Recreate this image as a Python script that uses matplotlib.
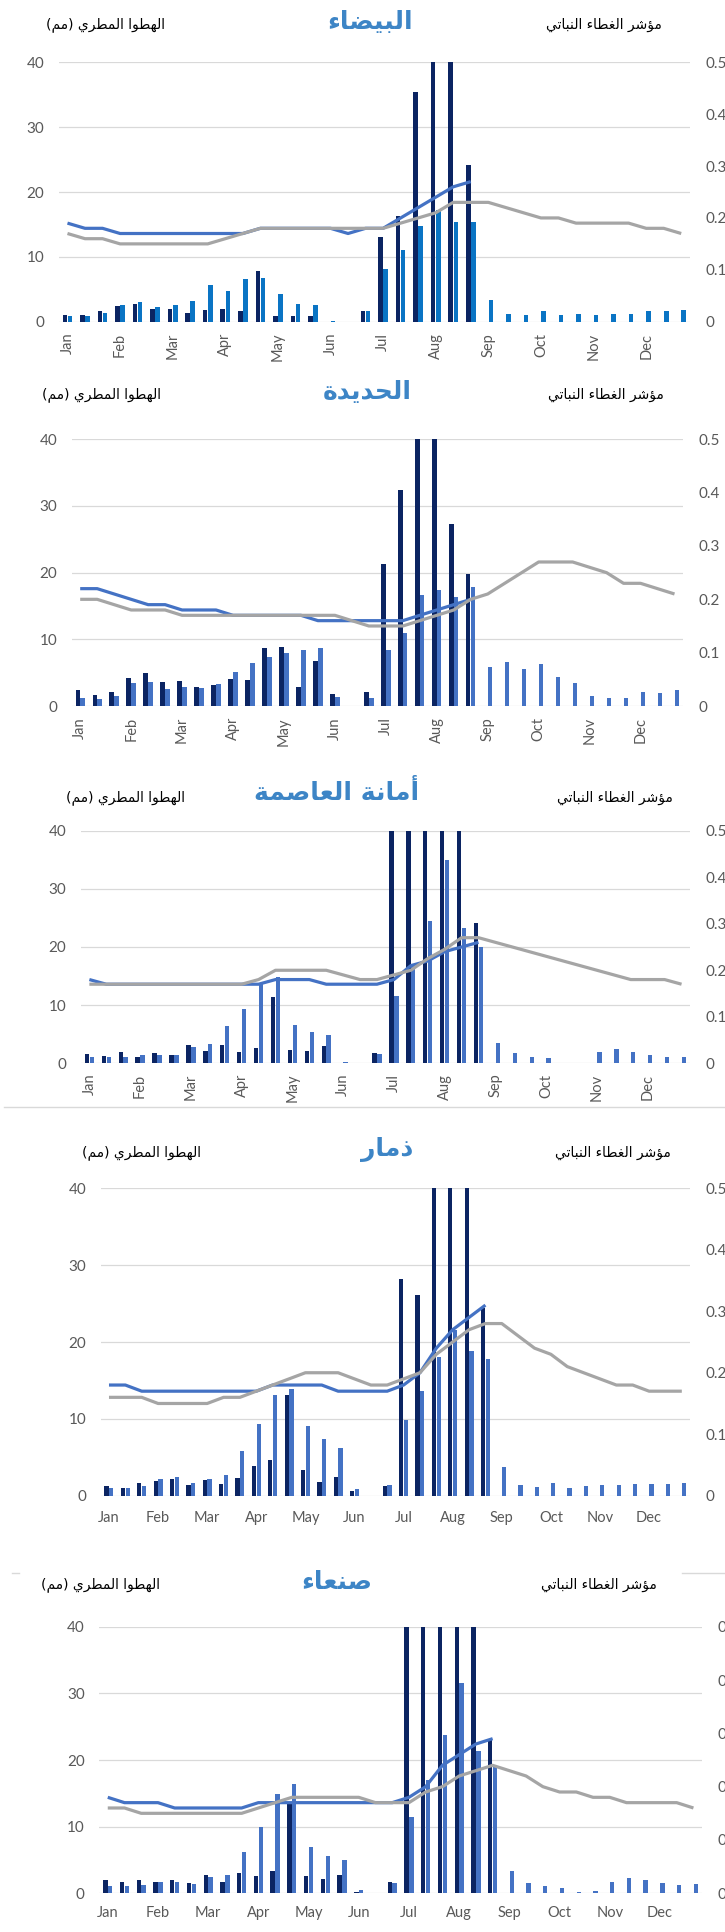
"""Dekadal rainfall bars and NDVI lines for five Yemeni governorates."""

from __future__ import annotations

import matplotlib

matplotlib.use("Agg")
import matplotlib.pyplot as plt
import numpy as np
from matplotlib.axes import Axes
from matplotlib.figure import Figure
from matplotlib.lines import Line2D

plt.rcParams.update({
    "font.family": ["Lato", "DejaVu Sans"],
    "axes.linewidth": 0,
})

FIG_W_PX = 725
FIG_H_PX = 1932
DPI = 100

DARK_BAR = "#0B2462"
BLUE = "#4472C4"
BLUE_BRIGHT = "#0A74C4"
GRAY = "#A5A5A5"
GRID = "#D9D9D9"
TICK_TEXT = "#595959"
TITLE_BLUE = "#3D85C6"

MONTHS = ["Jan", "Feb", "Mar", "Apr", "May", "Jun",
          "Jul", "Aug", "Sep", "Oct", "Nov", "Dec"]

RAIN_LABEL = "الهطوا المطري (مم)"
NDVI_LABEL = "مؤشر الغطاء النباتي"

# --- data (36 dekads; current season runs to the last dekad of August) ---
BAYDA_TITLE = "البيضاء"
BAYDA_RAIN_CURRENT = [1.0, 1.0, 1.7, 2.4, 2.7, 1.9, 2.0, 1.3, 1.8, 2.0, 1.6, 7.8,
                      0.9, 0.9, 0.9, 0.0, 0.0, 1.6, 13.0, 16.3, 35.4, 45.0, 45.0, 24.2]
BAYDA_RAIN_MEAN = [0.9, 0.9, 1.3, 2.6, 3.0, 2.2, 2.5, 3.2, 5.6, 4.8, 6.6, 6.8,
                   4.3, 2.8, 2.6, 0.1, 0.0, 1.6, 8.1, 11.1, 14.7, 17.3, 15.4, 15.4,
                   3.3, 1.2, 1.1, 1.6, 1.1, 1.2, 1.1, 1.2, 1.2, 1.6, 1.6, 1.8]
BAYDA_NDVI_CURRENT = [0.19, 0.18, 0.18, 0.17, 0.17, 0.17, 0.17, 0.17, 0.17, 0.17, 0.17, 0.18,
                      0.18, 0.18, 0.18, 0.18, 0.17, 0.18, 0.18, 0.20, 0.22, 0.24, 0.26, 0.27]
BAYDA_NDVI_MEAN = [0.17, 0.16, 0.16, 0.15, 0.15, 0.15, 0.15, 0.15, 0.15, 0.16, 0.17, 0.18,
                   0.18, 0.18, 0.18, 0.18, 0.18, 0.18, 0.18, 0.19, 0.20, 0.21, 0.23, 0.23,
                   0.23, 0.22, 0.21, 0.20, 0.20, 0.19, 0.19, 0.19, 0.19, 0.18, 0.18, 0.17]

HODEIDAH_TITLE = "الحديدة"
HODEIDAH_RAIN_CURRENT = [2.4, 1.65, 2.15, 4.15, 5.0, 3.65, 3.8, 2.8, 3.1, 4.05, 3.9, 8.65,
                         8.8, 2.8, 6.75, 1.8, 0.0, 2.15, 21.3, 32.4, 45.0, 45.0, 27.25, 19.8]
HODEIDAH_RAIN_MEAN = [1.25, 1.05, 1.55, 3.4, 3.55, 2.55, 2.8, 2.65, 3.25, 5.05, 6.4, 7.3,
                      8.0, 8.4, 8.7, 1.4, 0.0, 1.25, 8.4, 10.9, 16.65, 17.4, 16.4, 17.9,
                      5.9, 6.6, 5.55, 6.3, 4.4, 3.5, 1.55, 1.2, 1.15, 2.1, 2.0, 2.45]
HODEIDAH_NDVI_CURRENT = [0.22, 0.22, 0.21, 0.20, 0.19, 0.19, 0.18, 0.18, 0.18, 0.17, 0.17, 0.17,
                         0.17, 0.17, 0.16, 0.16, 0.16, 0.16, 0.16, 0.16, 0.17, 0.18, 0.19, 0.20]
HODEIDAH_NDVI_MEAN = [0.20, 0.20, 0.19, 0.18, 0.18, 0.18, 0.17, 0.17, 0.17, 0.17, 0.17, 0.17,
                      0.17, 0.17, 0.17, 0.17, 0.16, 0.15, 0.15, 0.15, 0.16, 0.17, 0.18, 0.20,
                      0.21, 0.23, 0.25, 0.27, 0.27, 0.27, 0.26, 0.25, 0.23, 0.23, 0.22, 0.21]

SANAA_CITY_TITLE = "أمانة العاصمة"
SANAA_CITY_RAIN_CURRENT = [1.6, 1.3, 1.95, 1.15, 1.7, 1.45, 3.1, 2.2, 3.1, 2.0, 2.7, 11.35,
                           2.3, 2.05, 3.0, 0.0, 0.0, 1.8, 45.0, 45.0, 45.0, 45.0, 45.0, 24.2]
SANAA_CITY_RAIN_MEAN = [1.05, 1.05, 1.15, 1.35, 1.35, 1.35, 2.85, 3.3, 6.4, 9.35, 13.75, 14.9,
                        6.65, 5.45, 4.8, 0.3, 0.0, 1.55, 11.6, 17.0, 24.5, 34.9, 23.3, 20.05,
                        3.45, 1.7, 1.15, 0.85, 0.0, 0.1, 1.9, 2.45, 2.0, 1.4, 1.1, 1.15]
SANAA_CITY_NDVI_CURRENT = [0.18, 0.17, 0.17, 0.17, 0.17, 0.17, 0.17, 0.17, 0.17, 0.17, 0.17, 0.18,
                           0.18, 0.18, 0.17, 0.17, 0.17, 0.17, 0.18, 0.21, 0.22, 0.24, 0.25, 0.26]
SANAA_CITY_NDVI_MEAN = [0.17, 0.17, 0.17, 0.17, 0.17, 0.17, 0.17, 0.17, 0.17, 0.17, 0.18, 0.20,
                        0.20, 0.20, 0.20, 0.19, 0.18, 0.18, 0.19, 0.20, 0.225, 0.245, 0.27, 0.27,
                        0.26, 0.25, 0.24, 0.23, 0.22, 0.21, 0.20, 0.19, 0.18, 0.18, 0.18, 0.17]

DHAMAR_TITLE = "ذمار"
DHAMAR_RAIN_CURRENT = [1.2, 1.05, 1.7, 1.85, 2.2, 1.35, 2.0, 1.5, 2.25, 3.85, 4.65, 13.1,
                       3.4, 1.8, 2.4, 0.6, 0.0, 1.3, 28.2, 26.1, 45.0, 45.0, 45.0, 24.4]
DHAMAR_RAIN_MEAN = [1.05, 1.05, 1.25, 2.2, 2.4, 1.65, 2.15, 2.65, 5.85, 9.3, 13.05, 13.9,
                    9.1, 7.4, 6.25, 0.85, 0.0, 1.45, 9.85, 13.65, 18.0, 21.6, 18.85, 17.75,
                    3.75, 1.4, 1.1, 1.6, 1.05, 1.25, 1.35, 1.4, 1.5, 1.5, 1.55, 1.7]
DHAMAR_NDVI_CURRENT = [0.18, 0.18, 0.17, 0.17, 0.17, 0.17, 0.17, 0.17, 0.17, 0.17, 0.18, 0.18,
                       0.18, 0.18, 0.17, 0.17, 0.17, 0.17, 0.18, 0.20, 0.24, 0.27, 0.29, 0.31]
DHAMAR_NDVI_MEAN = [0.16, 0.16, 0.16, 0.15, 0.15, 0.15, 0.15, 0.16, 0.16, 0.17, 0.18, 0.19,
                    0.20, 0.20, 0.20, 0.19, 0.18, 0.18, 0.19, 0.20, 0.23, 0.25, 0.27, 0.28,
                    0.28, 0.26, 0.24, 0.23, 0.21, 0.20, 0.19, 0.18, 0.18, 0.17, 0.17, 0.17]

SANAA_TITLE = "صنعاء"
SANAA_RAIN_CURRENT = [2.0, 1.65, 2.0, 1.65, 2.05, 1.6, 2.75, 1.7, 3.0, 2.6, 3.35, 13.5,
                      2.6, 2.2, 2.8, 0.15, 0.0, 1.65, 45.0, 45.0, 45.0, 45.0, 45.0, 23.0]
SANAA_RAIN_MEAN = [1.1, 1.1, 1.2, 1.75, 1.7, 1.45, 2.45, 2.8, 6.2, 10.0, 14.9, 16.35,
                   6.9, 5.65, 4.95, 0.45, 0.0, 1.5, 11.4, 17.0, 23.75, 31.6, 21.35, 19.0,
                   3.35, 1.5, 1.05, 0.85, 0.15, 0.4, 1.75, 2.25, 1.95, 1.5, 1.25, 1.35]
SANAA_NDVI_CURRENT = [0.18, 0.17, 0.17, 0.17, 0.16, 0.16, 0.16, 0.16, 0.16, 0.17, 0.17, 0.17,
                      0.17, 0.17, 0.17, 0.17, 0.17, 0.17, 0.18, 0.20, 0.24, 0.26, 0.28, 0.29]
SANAA_NDVI_MEAN = [0.16, 0.16, 0.15, 0.15, 0.15, 0.15, 0.15, 0.15, 0.15, 0.16, 0.17, 0.18,
                   0.18, 0.18, 0.18, 0.18, 0.17, 0.17, 0.17, 0.19, 0.20, 0.22, 0.23, 0.24,
                   0.23, 0.22, 0.20, 0.19, 0.19, 0.18, 0.18, 0.17, 0.17, 0.17, 0.17, 0.16]

# --- layout, in pixels of the 725 x 1932 output ---
PANEL_LAYOUT = [
    dict(x0=58.7, x1=690.0, y_top=62.3, y_zero=321.7, title=(370, 22), left=(106, 25),
         right=(604, 25), rotate=True, xpad=8, mean_color=BLUE_BRIGHT),
    dict(x0=71.7, x1=683.0, y_top=439.3, y_zero=706.0, title=(367, 392), left=(102, 395),
         right=(606, 395), rotate=True, xpad=8, mean_color=BLUE),
    dict(x0=80.9, x1=690.0, y_top=830.7, y_zero=1063.3, title=(337, 793), left=(126, 798),
         right=(615, 798), rotate=True, xpad=7.5, mean_color=BLUE),
    dict(x0=100.8, x1=690.0, y_top=1188.3, y_zero=1495.7, title=(387, 1150), left=(141, 1153),
         right=(613, 1153), rotate=False, xpad=11, mean_color=BLUE),
    dict(x0=99.4, x1=701.8, y_top=1626.7, y_zero=1893.3, title=(337, 1582), left=(101, 1585),
         right=(599, 1585), rotate=False, xpad=9.5, mean_color=BLUE),
]

# Arabic letters -> isolated presentation form; dual-joining letters have
# final/initial/medial forms at +1/+2/+3, right-joining letters only at +1.
_DUAL_JOINING = {
    "ب": 0xFE8F, "ت": 0xFE95, "ح": 0xFEA1, "ش": 0xFEB5, "ص": 0xFEB9, "ض": 0xFEBD,
    "ط": 0xFEC1, "ع": 0xFEC9, "غ": 0xFECD, "ل": 0xFEDD, "م": 0xFEE1, "ن": 0xFEE5,
    "ه": 0xFEE9, "ي": 0xFEF1,
}
_RIGHT_JOINING = {
    "ا": 0xFE8D, "أ": 0xFE83, "ؤ": 0xFE85, "ة": 0xFE93, "د": 0xFEA9, "ذ": 0xFEAB,
    "ر": 0xFEAD, "و": 0xFEED,
}
_NON_JOINING = {"ء": 0xFE80}
_MIRROR = {"(": ")", ")": "("}


def shape_arabic(text: str) -> str:
    """Return text in contextual glyph forms and visual (right-to-left) order."""
    joining = set(_DUAL_JOINING) | set(_RIGHT_JOINING)
    out: list[str] = []
    for i, ch in enumerate(text):
        prev = text[i - 1] if i > 0 else ""
        nxt = text[i + 1] if i + 1 < len(text) else ""
        joins_prev = prev in _DUAL_JOINING and ch in joining
        if ch in _DUAL_JOINING:
            joins_next = nxt in joining
            offset = {(False, False): 0, (True, False): 1,
                      (False, True): 2, (True, True): 3}[(joins_prev, joins_next)]
            out.append(chr(_DUAL_JOINING[ch] + offset))
        elif ch in _RIGHT_JOINING:
            out.append(chr(_RIGHT_JOINING[ch] + (1 if joins_prev else 0)))
        elif ch in _NON_JOINING:
            out.append(chr(_NON_JOINING[ch]))
        else:
            out.append(_MIRROR.get(ch, ch))
    return "".join(reversed(out))


def _fx(px: float) -> float:
    return px / FIG_W_PX


def _fy(px: float) -> float:
    return 1 - px / FIG_H_PX


def _plot_panel(fig: Figure, layout: dict, title: str, rain_current, rain_mean,
                ndvi_current, ndvi_mean) -> None:
    """Draw one governorate: rainfall bars (left axis) and NDVI lines (right axis)."""
    rect = [_fx(layout["x0"]), _fy(layout["y_zero"]),
            _fx(layout["x1"] - layout["x0"]),
            (layout["y_zero"] - layout["y_top"]) / FIG_H_PX]
    ax: Axes = fig.add_axes(rect)
    x_all = np.arange(len(rain_mean))
    x_cur = np.arange(len(rain_current))

    ax.bar(x_cur - 0.145, rain_current, width=0.26, color=DARK_BAR, zorder=2)
    ax.bar(x_all + 0.145, rain_mean, width=0.26, color=layout["mean_color"], zorder=2)
    ax.set_xlim(-0.5, len(rain_mean) - 0.5)
    ax.set_ylim(0, 40)
    ax.set_yticks([0, 10, 20, 30, 40])
    ax.set_axisbelow(True)
    ax.yaxis.grid(True, color=GRID, linewidth=0.9)
    ax.set_xticks(np.arange(0, 36, 3))
    ax.set_xticklabels(MONTHS, rotation=90 if layout["rotate"] else 0)
    ax.tick_params(axis="x", length=0, pad=layout["xpad"], labelsize=10.5,
                   labelcolor=TICK_TEXT)
    ax.tick_params(axis="y", length=0, pad=10.5, labelsize=11, labelcolor=TICK_TEXT)
    for spine in ax.spines.values():
        spine.set_visible(False)

    ax_ndvi = ax.twinx()
    ax_ndvi.plot(x_cur, ndvi_current, color=BLUE, linewidth=2.3, solid_capstyle="butt")
    ax_ndvi.plot(x_all, ndvi_mean, color=GRAY, linewidth=2.3, solid_capstyle="butt")
    ax_ndvi.set_ylim(0, 0.5)
    ax_ndvi.set_yticks([0, 0.1, 0.2, 0.3, 0.4, 0.5])
    ax_ndvi.set_yticklabels(["0", "0.1", "0.2", "0.3", "0.4", "0.5"])
    ax_ndvi.tick_params(axis="y", length=0, pad=11, labelsize=11, labelcolor=TICK_TEXT)
    for spine in ax_ndvi.spines.values():
        spine.set_visible(False)

    tx, ty = layout["title"]
    fig.text(_fx(tx), _fy(ty), shape_arabic(title), ha="center", va="center",
             fontsize=18, fontweight="bold", color=TITLE_BLUE, family="DejaVu Sans")
    lx, ly = layout["left"]
    fig.text(_fx(lx), _fy(ly), shape_arabic(RAIN_LABEL), ha="center", va="center",
             fontsize=10, color="black", family="DejaVu Sans")
    rx, ry = layout["right"]
    fig.text(_fx(rx), _fy(ry), shape_arabic(NDVI_LABEL), ha="center", va="center",
             fontsize=10, color="black", family="DejaVu Sans")


def _add_chart_borders(fig: Figure) -> None:
    """Faint chart-area borders visible between the stacked panels."""
    segments = [((4, 725), 1106.7), ((11.6, 18.5), 1573.3), ((682, 725), 1573.3)]
    for (xa, xb), y in segments:
        fig.add_artist(Line2D([_fx(xa), _fx(xb)], [_fy(y), _fy(y)],
                              transform=fig.transFigure, color=GRID, linewidth=1.0))


def main() -> None:
    fig = plt.figure(figsize=(FIG_W_PX / DPI, FIG_H_PX / DPI), dpi=DPI)
    panels = [
        (BAYDA_TITLE, BAYDA_RAIN_CURRENT, BAYDA_RAIN_MEAN, BAYDA_NDVI_CURRENT, BAYDA_NDVI_MEAN),
        (HODEIDAH_TITLE, HODEIDAH_RAIN_CURRENT, HODEIDAH_RAIN_MEAN,
         HODEIDAH_NDVI_CURRENT, HODEIDAH_NDVI_MEAN),
        (SANAA_CITY_TITLE, SANAA_CITY_RAIN_CURRENT, SANAA_CITY_RAIN_MEAN,
         SANAA_CITY_NDVI_CURRENT, SANAA_CITY_NDVI_MEAN),
        (DHAMAR_TITLE, DHAMAR_RAIN_CURRENT, DHAMAR_RAIN_MEAN, DHAMAR_NDVI_CURRENT, DHAMAR_NDVI_MEAN),
        (SANAA_TITLE, SANAA_RAIN_CURRENT, SANAA_RAIN_MEAN, SANAA_NDVI_CURRENT, SANAA_NDVI_MEAN),
    ]
    for layout, data in zip(PANEL_LAYOUT, panels):
        _plot_panel(fig, layout, *data)
    _add_chart_borders(fig)
    fig.savefig("out.png", dpi=DPI)
    plt.close(fig)


if __name__ == "__main__":
    main()
